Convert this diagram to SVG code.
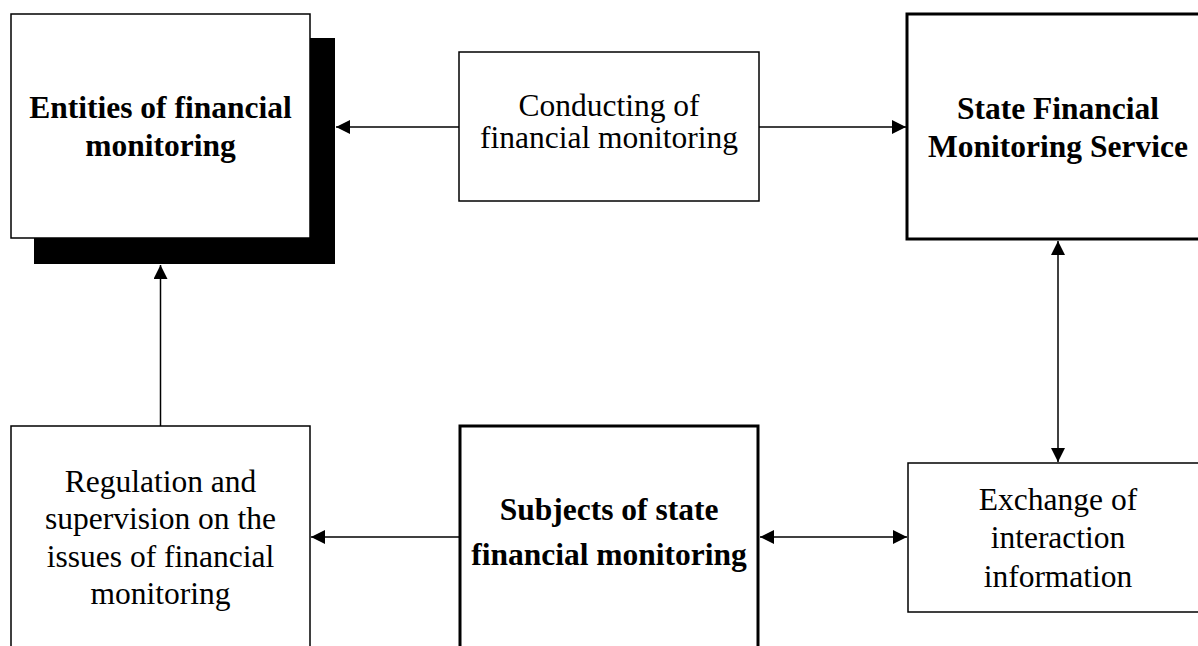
<svg xmlns="http://www.w3.org/2000/svg" width="1198" height="646" viewBox="0 0 1198 646">
<style>
.box{fill:#fff;stroke:#000;stroke-width:1.5}
.thick{fill:#fff;stroke:#000;stroke-width:3}
.t{font-family:"Liberation Serif","Times New Roman",serif;font-size:31.5px;text-anchor:middle;fill:#000}
.b{font-weight:bold}
.c{stroke:#000;stroke-width:1.5;fill:none}
</style>
<defs>
<marker id="ah" viewBox="0 0 14 14" refX="14" refY="7" markerWidth="14" markerHeight="14" markerUnits="userSpaceOnUse" orient="auto-start-reverse">
<path d="M0,0 L14,7 L0,14 Z" fill="#000"/>
</marker>
</defs>
<rect width="1198" height="646" fill="#fff"/>
<g id="connectors">
<line class="c" x1="459" y1="127" x2="336" y2="127" marker-end="url(#ah)"/>
<line class="c" x1="759" y1="127" x2="906" y2="127" marker-end="url(#ah)"/>
<line class="c" x1="160.5" y1="426" x2="160.5" y2="265" marker-end="url(#ah)"/>
<line class="c" x1="459" y1="537" x2="311" y2="537" marker-end="url(#ah)"/>
<line class="c" x1="760" y1="537" x2="907" y2="537" marker-start="url(#ah)" marker-end="url(#ah)"/>
<line class="c" x1="1058" y1="241" x2="1058" y2="462" marker-start="url(#ah)" marker-end="url(#ah)"/>
</g>
<g id="entities">
<rect x="34" y="38" width="301" height="226" fill="#000"/>
<rect class="box" x="11" y="14" width="299" height="224"/>
<text class="t b" x="160.5" y="118">Entities of financial</text>
<text class="t b" x="160.5" y="156">monitoring</text>
</g>
<g id="conducting">
<rect class="box" x="459" y="52" width="300" height="149"/>
<text class="t" x="609" y="116">Conducting of</text>
<text class="t" x="609" y="148">financial monitoring</text>
</g>
<g id="state">
<rect class="thick" x="907" y="14" width="305" height="225"/>
<text class="t b" x="1058" y="119">State Financial</text>
<text class="t b" x="1058" y="157">Monitoring Service</text>
</g>
<g id="regulation">
<rect class="box" x="11" y="426" width="299" height="240"/>
<text class="t" x="160.5" y="492">Regulation and</text>
<text class="t" x="160.5" y="529">supervision on the</text>
<text class="t" x="160.5" y="567">issues of financial</text>
<text class="t" x="160.5" y="604">monitoring</text>
</g>
<g id="subjects">
<rect class="thick" x="460" y="426" width="298" height="240"/>
<text class="t b" x="609" y="520">Subjects of state</text>
<text class="t b" x="609" y="565">financial monitoring</text>
</g>
<g id="exchange">
<rect class="box" x="908" y="463" width="305" height="149"/>
<text class="t" x="1058" y="510">Exchange of</text>
<text class="t" x="1058" y="548">interaction</text>
<text class="t" x="1058" y="587">information</text>
</g>
</svg>
